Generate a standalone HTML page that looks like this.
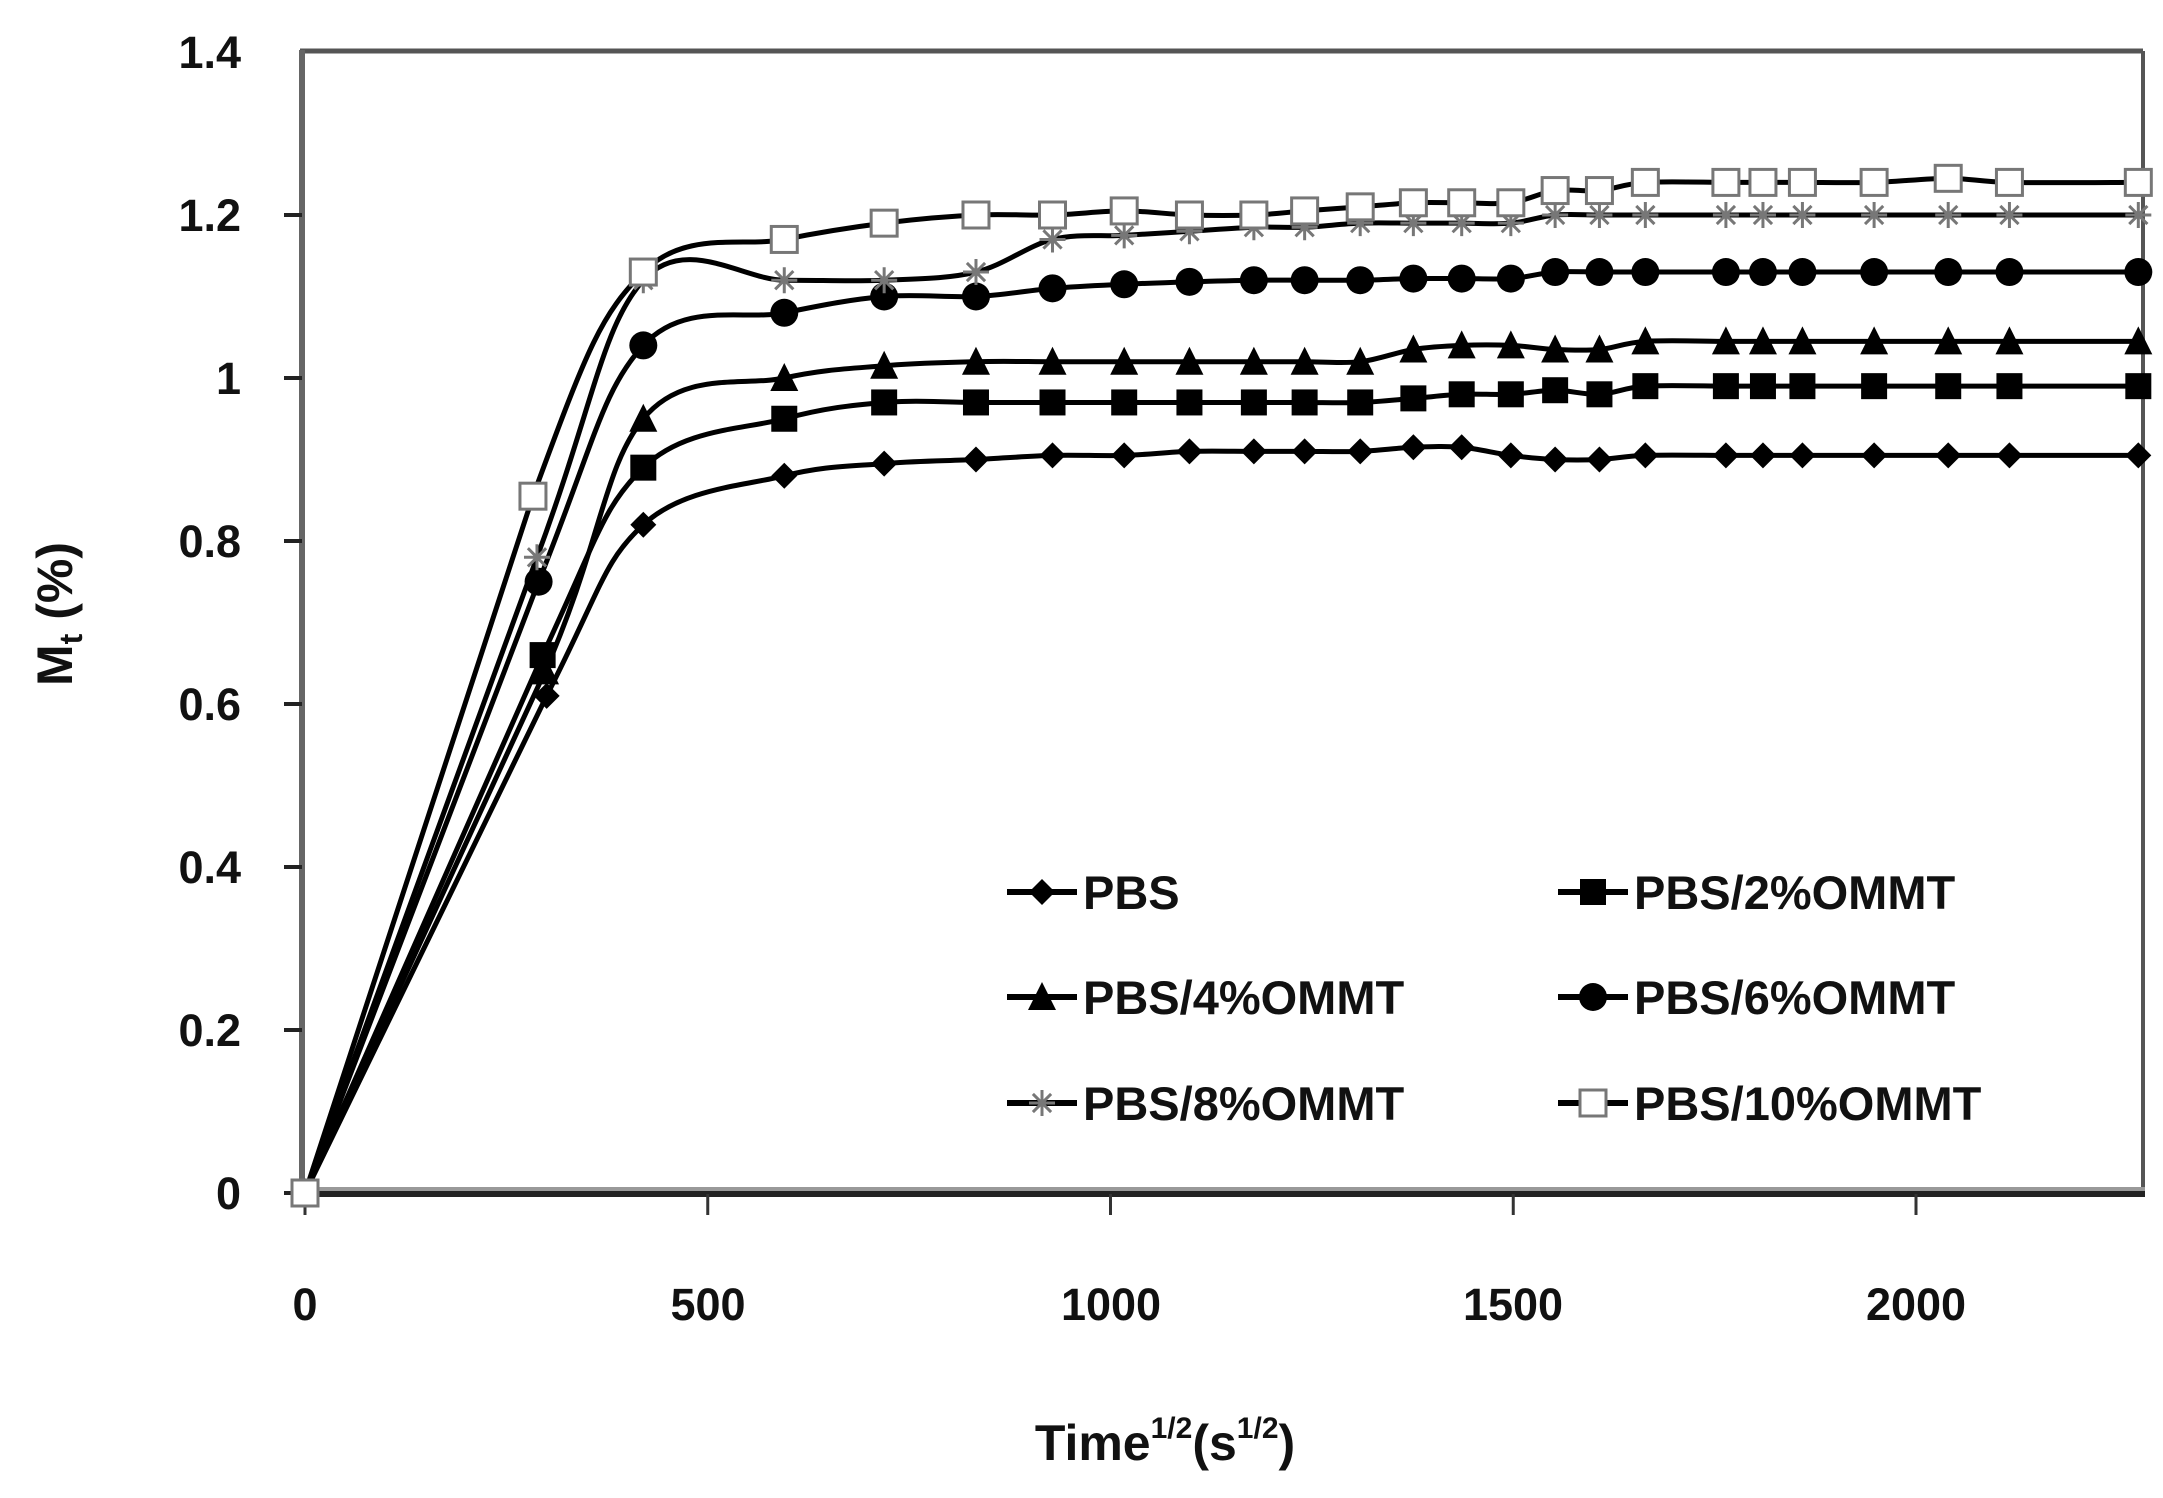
<!DOCTYPE html>
<html><head><meta charset="utf-8"><style>
html,body{margin:0;padding:0;background:#fff;}
svg{display:block;}
text{font-family:"Liberation Sans",Arial,sans-serif;font-weight:bold;fill:#111;}
</style></head><body>
<svg id="s" width="2163" height="1498" viewBox="0 0 2163 1498" xmlns="http://www.w3.org/2000/svg">
<rect width="2163" height="1498" fill="#fff"/>
<line x1="300" y1="51" x2="2143" y2="51" stroke="#555" stroke-width="5"/>
<line x1="2143" y1="51" x2="2143" y2="1195" stroke="#555" stroke-width="4"/>
<line x1="302" y1="50" x2="302" y2="1200" stroke="#666" stroke-width="6"/>
<line x1="300" y1="1194" x2="2145" y2="1194" stroke="#222" stroke-width="6"/>
<line x1="300" y1="1189" x2="2145" y2="1189" stroke="#999" stroke-width="4"/>
<g id="ticks"></g>
<g id="series"></g>
<g font-size="45">
<text x="241" y="68" text-anchor="end">1.4</text>
<text x="241" y="231" text-anchor="end">1.2</text>
<text x="241" y="394" text-anchor="end">1</text>
<text x="241" y="557" text-anchor="end">0.8</text>
<text x="241" y="720" text-anchor="end">0.6</text>
<text x="241" y="883" text-anchor="end">0.4</text>
<text x="241" y="1046" text-anchor="end">0.2</text>
<text x="241" y="1209" text-anchor="end">0</text>
<text x="305" y="1320" text-anchor="middle">0</text>
<text x="708" y="1320" text-anchor="middle">500</text>
<text x="1111" y="1320" text-anchor="middle">1000</text>
<text x="1513" y="1320" text-anchor="middle">1500</text>
<text x="1916" y="1320" text-anchor="middle">2000</text>
</g>
<text x="1165" y="1460" text-anchor="middle" font-size="50">Time<tspan font-size="30" dy="-22">1/2</tspan><tspan dy="22">(s</tspan><tspan font-size="30" dy="-22">1/2</tspan><tspan dy="22">)</tspan></text>
<text transform="translate(72,614) rotate(-90)" text-anchor="middle" font-size="50">M<tspan font-size="32" dy="10">t</tspan><tspan dy="-10"> (%)</tspan></text>
<g id="legend" font-size="47" style="font-weight:normal"></g>
</svg>
<script>
var NS="http://www.w3.org/2000/svg";
function X(v){return 305+v*0.8055;}
function Y(v){return 1193-v*815;}
function el(t,a,p){var e=document.createElementNS(NS,t);for(var k in a)e.setAttribute(k,a[k]);p.appendChild(e);return e;}
var tk=document.getElementById('ticks');
[0,0.2,0.4,0.6,0.8,1,1.2].forEach(function(v){el('line',{x1:284,x2:302,y1:Y(v),y2:Y(v),stroke:'#222','stroke-width':4},tk);});
[0,500,1000,1500,2000].forEach(function(v){el('line',{x1:X(v),x2:X(v),y1:1194,y2:1215,stroke:'#333','stroke-width':3},tk);});
var xs=[0,0,420,595,719,833,928,1017,1098,1178,1241,1310,1376,1436,1497,1552,1607,1664,1764,1810,1859,1948,2040,2116,2276];
var S=[
{m:'diamond',x2:300,y:[0,0.61,0.82,0.88,0.895,0.9,0.905,0.905,0.91,0.91,0.91,0.91,0.915,0.915,0.905,0.9,0.9,0.905,0.905,0.905,0.905,0.905,0.905,0.905,0.905]},
{m:'square',x2:295,y:[0,0.66,0.89,0.95,0.97,0.97,0.97,0.97,0.97,0.97,0.97,0.97,0.975,0.98,0.98,0.985,0.98,0.99,0.99,0.99,0.99,0.99,0.99,0.99,0.99]},
{m:'tri',x2:298,y:[0,0.64,0.95,1.0,1.015,1.02,1.02,1.02,1.02,1.02,1.02,1.02,1.035,1.04,1.04,1.035,1.035,1.045,1.045,1.045,1.045,1.045,1.045,1.045,1.045]},
{m:'circle',x2:290,y:[0,0.75,1.04,1.08,1.1,1.1,1.11,1.115,1.118,1.12,1.12,1.12,1.122,1.122,1.122,1.13,1.13,1.13,1.13,1.13,1.13,1.13,1.13,1.13,1.13]},
{m:'star',x2:288,y:[0,0.78,1.12,1.12,1.12,1.13,1.17,1.175,1.18,1.185,1.185,1.19,1.19,1.19,1.19,1.2,1.2,1.2,1.2,1.2,1.2,1.2,1.2,1.2,1.2]},
{m:'open',x2:283,y:[0,0.855,1.13,1.17,1.19,1.2,1.2,1.205,1.2,1.2,1.205,1.21,1.215,1.215,1.215,1.23,1.23,1.24,1.24,1.24,1.24,1.24,1.245,1.24,1.24]}
];
var g=document.getElementById('series');
function marker(m,x,y,p){
 var r=13;
 if(m=='diamond')el('polygon',{points:[x,y-r,x+r,y,x,y+r,x-r,y].join(' '),fill:'#000'},p);
 else if(m=='square')el('rect',{x:x-r,y:y-r,width:2*r,height:2*r,fill:'#000'},p);
 else if(m=='tri')el('polygon',{points:[x,y-r-2,x+r+1,y+r,x-r-1,y+r].join(' '),fill:'#000'},p);
 else if(m=='circle')el('circle',{cx:x,cy:y,r:r+1,fill:'#000'},p);
 else if(m=='star'){var d='';[[0,1],[1,0],[0.7,0.7],[0.7,-0.7]].forEach(function(a){d+='M'+(x-a[0]*r)+' '+(y-a[1]*r)+'L'+(x+a[0]*r)+' '+(y+a[1]*r);});el('path',{d:d,stroke:'#777','stroke-width':3},p);}
 else el('rect',{x:x-r,y:y-r,width:2*r,height:2*r,fill:'#fff',stroke:'#777','stroke-width':3},p);
}
S.forEach(function(s){
 var pts=xs.map(function(v,i){return [X(i==1?s.x2:v),Y(s.y[i])];});
 var d='M'+pts[0][0]+' '+pts[0][1];
 for(var i=0;i<pts.length-1;i++){
  var p0=pts[Math.max(i-1,0)],p1=pts[i],p2=pts[i+1],p3=pts[Math.min(i+2,pts.length-1)];
  var t=i<1?0:1/6;
  d+='C'+(p1[0]+(p2[0]-p0[0])*t)+' '+(p1[1]+(p2[1]-p0[1])*t)+' '+(p2[0]-(p3[0]-p1[0])*t)+' '+(p2[1]-(p3[1]-p1[1])*t)+' '+p2[0]+' '+p2[1];
 }
 el('path',{d:d,fill:'none',stroke:'#000','stroke-width':5},g);
 pts.forEach(function(p){marker(s.m,p[0],p[1],g);});
});
var L=document.getElementById('legend');
var leg=[['diamond','PBS',1007,892],['square','PBS/2%OMMT',1558,892],['tri','PBS/4%OMMT',1007,997],['circle','PBS/6%OMMT',1558,997],['star','PBS/8%OMMT',1007,1103],['open','PBS/10%OMMT',1558,1103]];
leg.forEach(function(l){
 el('line',{x1:l[2],x2:l[2]+70,y1:l[3],y2:l[3],stroke:'#000','stroke-width':6},L);
 marker(l[0],l[2]+35,l[3],L);
 var t=el('text',{x:l[2]+76,y:l[3]+17},L);t.textContent=l[1];
});
</script>
</body></html>
